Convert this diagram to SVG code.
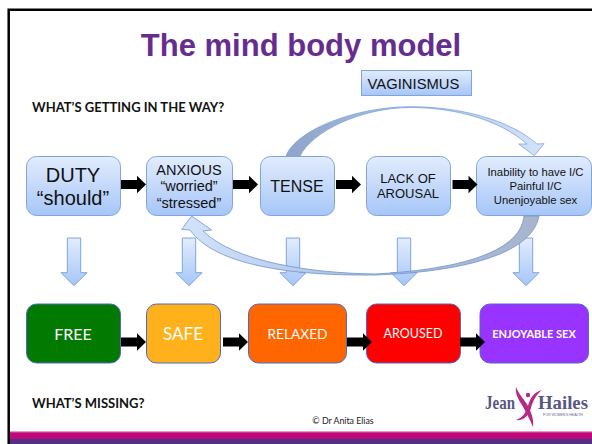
<svg xmlns="http://www.w3.org/2000/svg" width="592" height="444" viewBox="0 0 592 444">
<defs>
<linearGradient id="b" x1="0" y1="0" x2="0" y2="1"><stop offset="0" stop-color="#e2ecfd"/><stop offset="1" stop-color="#a6c6f8"/></linearGradient>
<linearGradient id="pink" x1="0" y1="0" x2="0" y2="1"><stop offset="0" stop-color="#f3c6de"/><stop offset="0.25" stop-color="#c0087a"/><stop offset="1" stop-color="#c0087a"/></linearGradient>
<linearGradient id="cA" x1="0" y1="0" x2="1" y2="0"><stop offset="0" stop-color="#8ea4c8"/><stop offset="0.45" stop-color="#a9bfe0"/><stop offset="1" stop-color="#d3e3fb"/></linearGradient>
<linearGradient id="cB" x1="0" y1="0" x2="1" y2="0"><stop offset="0" stop-color="#d3e3fb"/><stop offset="0.5" stop-color="#a9c0e4"/><stop offset="1" stop-color="#a8b4cc"/></linearGradient>
<path id="blk" d="M0-4.500H16V-8.800L25 0L16 8.800V4.500H0Z" fill="#000"/>
<path id="dn" d="M-6.700 0H6.700V34.700H13L0 47.700L-13 34.700H-6.700Z" fill="url(#b)" stroke="#7ea6dc" stroke-width="1"/>
</defs>
<style>
.s{font-family:"Liberation Sans",Arial,sans-serif;text-anchor:middle;fill:#111}
.c{font-family:Lato,"Open Sans",sans-serif;text-anchor:middle;fill:#fff}
.h{font-family:Lato,"Open Sans",sans-serif;font-weight:700;font-size:13px;fill:#111}
.n{fill:url(#b);stroke:#7ea6dc;stroke-width:1}
.k{stroke:#4d6bc6;stroke-width:1}
.l{font-family:"Liberation Serif",serif;font-weight:700;fill:#5a5680}
</style>
<rect width="592" height="444" fill="#fff"/>
<path d="M8.700 444V9.700H592" fill="none" stroke="#000" stroke-width="2.500"/>
<rect x="10" y="431" width="582" height="8" fill="url(#pink)"/>
<rect x="10" y="439" width="582" height="5" fill="#513087"/>
<text x="301" y="56" text-anchor="middle" font-family="Liberation Sans,Arial,sans-serif" font-weight="700" font-size="31" fill="#662d91">The mind body model</text>
<text class="h" x="32" y="112">WHAT’S GETTING IN THE WAY?</text>
<text class="h" x="32" y="408">WHAT’S MISSING?</text>
<text x="343" y="424" text-anchor="middle" font-family="Lato,Open Sans,sans-serif" font-size="8.800" fill="#222">© Dr Anita Elias</text>

<g id="vaginismus"><rect class="n" x="361.500" y="70.500" width="110" height="25"/><text class="s" x="413.500" y="89" font-size="14.800">VAGINISMUS</text></g>
<g id="duty"><rect class="n" x="26.500" y="156.500" width="94" height="59" rx="10"/><text class="s" x="73" y="182" font-size="20">DUTY</text><text class="s" x="73" y="205" font-size="20">“should”</text></g>
<g id="anxious"><rect class="n" x="146.500" y="156.500" width="86" height="59" rx="10"/><text class="s" x="189" y="174.500" font-size="14.500">ANXIOUS</text><text class="s" x="189" y="191" font-size="14.500">“worried”</text><text class="s" x="189" y="208" font-size="14.500">“stressed”</text></g>
<g id="tense"><rect class="n" x="260.500" y="156.500" width="74" height="59" rx="10"/><text class="s" x="297" y="192" font-size="16">TENSE</text></g>
<g id="lack"><rect class="n" x="366.500" y="156.500" width="84" height="59" rx="10"/><text class="s" x="408" y="183" font-size="13">LACK OF</text><text class="s" x="408" y="198" font-size="13">AROUSAL</text></g>
<g id="inability"><rect class="n" x="476.500" y="156.500" width="115" height="59" rx="10"/><text class="s" x="535.500" y="176" font-size="11.300">Inability to have I/C</text><text class="s" x="535.500" y="190" font-size="11.300">Painful I/C</text><text class="s" x="535.500" y="204" font-size="11.300">Unenjoyable sex</text></g>

<g id="free"><rect class="k" x="26.500" y="304" width="94" height="59" rx="10" fill="#027a02"/><text class="c" x="73" y="340" font-size="16">FREE</text></g>
<g id="safe"><rect class="k" x="146.500" y="304" width="74" height="59" rx="10" fill="#ffb11b"/><text class="c" x="183" y="340" font-size="17">SAFE</text></g>
<g id="relaxed"><rect class="k" x="248.500" y="304" width="98" height="59" rx="10" fill="#ff6600"/><text class="c" x="297.500" y="339" font-size="13.700">RELAXED</text></g>
<g id="aroused"><rect class="k" x="366.500" y="304" width="94" height="59" rx="10" fill="#ff0000"/><text class="c" x="413" y="338" font-size="12.500">AROUSED</text></g>
<g id="enjoyable"><rect class="k" x="480" y="304" width="108.500" height="59" rx="10" fill="#9933ff"/><text class="c" x="534" y="338" font-size="11" font-weight="700">ENJOYABLE SEX</text></g>

<g id="connectors">
<use href="#dn" x="74" y="238"/><use href="#dn" x="189" y="238"/><use href="#dn" x="293" y="238"/><use href="#dn" x="404" y="238"/><use href="#dn" x="526" y="238"/>
<use href="#blk" x="121" y="184.500"/><use href="#blk" x="233" y="184.500"/><use href="#blk" x="336" y="184.500"/><use href="#blk" x="452.500" y="184.500"/>
<use href="#blk" x="121" y="342"/><use href="#blk" x="223" y="342"/><use href="#blk" x="347" y="342"/><use href="#blk" x="460" y="342"/>
<path d="M286 156C296 130 355 106.700 411 106.700C460 106.700 510 120 537 144L544 143.700L534.300 155.700L518.700 144L527 144C500 120 455 107.500 411 107.500C360 107.500 312 132 300 156Z" fill="url(#cA)" stroke="#7ea6dc" stroke-width="0.800"/>
<path d="M539 216C532 255 460 272 375 275C290 276 215 265 190 230L181.700 229.300L191.700 216L211.700 230L203 231C235 262 310 273 375 274C450 270 520 255 524 216Z" fill="url(#cB)" stroke="#6f96cc" stroke-width="0.800"/>
</g>

<g id="logo">
<text class="l" x="485" y="409" font-size="19" textLength="30" lengthAdjust="spacingAndGlyphs">Jean</text>
<text class="l" x="538" y="409" font-size="19" textLength="50" lengthAdjust="spacingAndGlyphs">Hailes</text>
<text x="563" y="415.500" text-anchor="middle" font-family="Liberation Sans,sans-serif" font-size="3.500" fill="#6a6690">FOR WOMEN’S HEALTH</text>
<path d="M516 387C519 395 525 400 528 406C532 414 534 420 533 427C530 420 526 412 522 405C518 399 515 393 516 387Z" fill="#b52a82"/>
<path d="M542 390C534 392 530 398 528 406C526 413 522 418 516 420C523 421 529 416 531 408C533 400 537 394 542 390Z" fill="#b52a82"/>
<circle cx="528" cy="395" r="2.200" fill="#b52a82"/>
</g>
</svg>
